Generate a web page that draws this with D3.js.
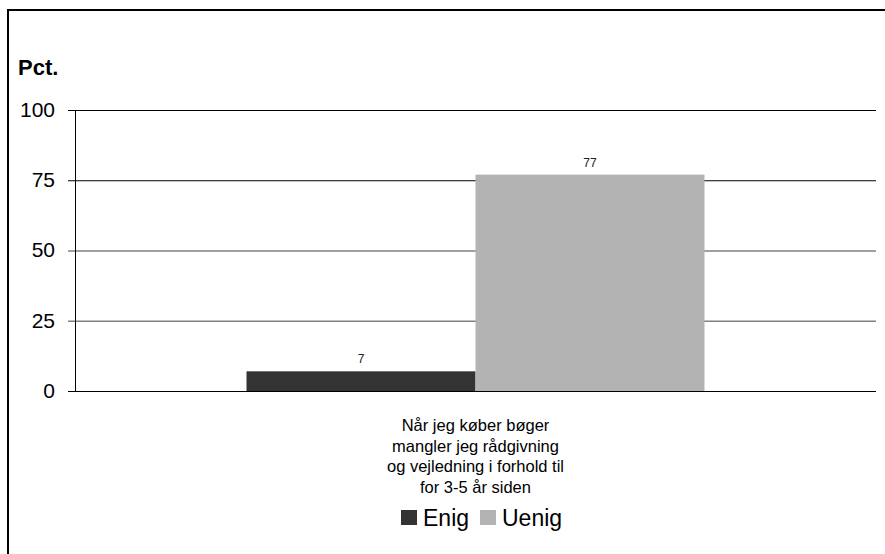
<!DOCTYPE html>
<html>
<head>
<meta charset="utf-8">
<script src="https://cdn.jsdelivr.net/npm/d3@7"></script>
<style>
  body { margin: 0; background: #fff; }
  svg { font-family: "Liberation Sans", Arial, sans-serif; }
</style>
</head>
<body>
<svg id="chart" width="885" height="554"></svg>
<script>
// chart data
var categories = ['Når jeg køber bøger mangler jeg rådgivning og vejledning i forhold til for 3-5 år siden'];
var categoryLines = [['Når jeg køber bøger', 'mangler jeg rådgivning', 'og vejledning i forhold til', 'for 3-5 år siden']];
var seriesNames = ['Enig', 'Uenig'];
var seriesValues = [[7], [77]];
var seriesColors = ['#333333', '#b3b3b3'];
var yTicks = [0, 25, 50, 75, 100];

var svg = d3.select('#chart');
var margin = {left: 75, right: 9, top: 110, bottom: 163};
var width = 885 - margin.left - margin.right,
    height = 554 - margin.top - margin.bottom;

// outer frame (top and left edge only)
svg.append('path')
    .attr('d', 'M8,554V10H885')
    .attr('fill', 'none')
    .attr('stroke', '#000')
    .attr('stroke-width', 2);

var g = svg.append('g').attr('transform', 'translate(' + margin.left + ',' + margin.top + ')');

var y = d3.scaleLinear().domain([0, 100]).range([height, 0]);
var x0 = d3.scaleBand().domain(categories).range([0, width]).paddingInner(0).paddingOuter(0.3745);
var x1 = d3.scaleBand().domain(seriesNames).range([0, x0.bandwidth()]).padding(0);

// grid lines + ticks
var yAxis = d3.axisLeft(y).tickValues(yTicks).tickSize(-width - 7);
var ax = g.append('g').attr('transform', 'translate(' + width + ',0)').call(yAxis);
ax.select('.domain').remove();
ax.selectAll('.tick line')
    .attr('x1', 0).attr('x2', -width - 7)
    .attr('stroke', function(d) { return (d === 25 || d === 50) ? '#808080' : '#000'; })
    .attr('stroke-width', function(d) { return (d === 25 || d === 50) ? 1.5 : 1; });
ax.selectAll('.tick text')
    .attr('x', -width - 20)
    .attr('dy', '0.3em')
    .attr('font-size', 21)
    .attr('font-family', '"Liberation Sans", Arial, sans-serif')
    .attr('fill', '#000')
    .attr('text-anchor', 'end');

// y axis line
g.append('line')
    .attr('x1', 0.5).attr('x2', 0.5)
    .attr('y1', 0).attr('y2', height)
    .attr('stroke', '#000');

svg.append('text')
    .attr('x', 18).attr('y', 75)
    .attr('font-size', 22).attr('font-weight', 'bold')
    .text('Pct.');

// bars
var bars = [];
seriesNames.forEach(function(name, i) {
    categories.forEach(function(cat, j) {
        bars.push({series: name, cat: cat, value: seriesValues[i][j], color: seriesColors[i]});
    });
});

g.selectAll('rect.bar').data(bars).enter().append('rect')
    .attr('class', 'bar')
    .attr('x', function(d) { return x0(d.cat) + x1(d.series); })
    .attr('width', x1.bandwidth())
    .attr('y', function(d) { return y(d.value); })
    .attr('height', function(d) { return height - y(d.value); })
    .attr('fill', function(d) { return d.color; });

g.selectAll('text.val').data(bars).enter().append('text')
    .attr('class', 'val')
    .attr('x', function(d) { return x0(d.cat) + x1(d.series) + x1.bandwidth() / 2; })
    .attr('y', function(d) { return y(d.value) - 8; })
    .attr('text-anchor', 'middle')
    .attr('font-size', 12)
    .attr('fill', '#222')
    .text(function(d) { return d.value; });

// redraw baseline over bars
g.append('line')
    .attr('x1', -7).attr('x2', width)
    .attr('y1', height + 0.5).attr('y2', height + 0.5)
    .attr('stroke', '#000');

// category label
categories.forEach(function(cat, j) {
    var t = g.append('text')
        .attr('text-anchor', 'middle')
        .attr('font-size', 16.5)
        .attr('fill', '#000');
    categoryLines[j].forEach(function(line, k) {
        t.append('tspan')
            .attr('x', x0(cat) + x0.bandwidth() / 2)
            .attr('y', height + 40 + k * 20.7)
            .text(line);
    });
});

// legend
var legendX = [401, 480];
var lg = svg.append('g');
seriesNames.forEach(function(name, i) {
    lg.append('rect')
        .attr('x', legendX[i]).attr('y', 510)
        .attr('width', 16).attr('height', 15)
        .attr('fill', seriesColors[i]);
    lg.append('text')
        .attr('x', legendX[i] + 22).attr('y', 526)
        .attr('font-size', 23)
        .text(name);
});
</script>
</body>
</html>
